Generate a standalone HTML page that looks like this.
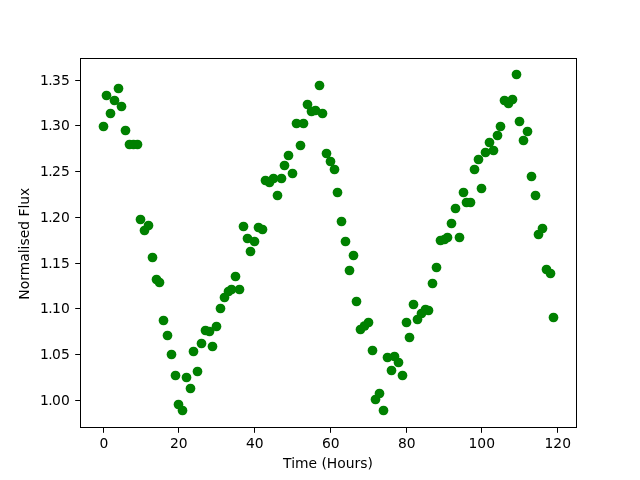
<!DOCTYPE html>
<html><head><meta charset="utf-8"><title>Normalised Flux vs Time</title>
<style>
html,body{margin:0;padding:0;background:#fff;}
svg{display:block;}
text{font-family:"DejaVu Sans","Liberation Sans",sans-serif;font-size:13.89px;fill:#000;}
</style></head><body>
<svg width="640" height="480" viewBox="0 0 640 480">
<rect x="0" y="0" width="640" height="480" fill="#fff"/>
<g fill="#008000"><circle cx="103.5" cy="126.5" r="4.86"/><circle cx="106.5" cy="95.5" r="4.86"/><circle cx="110.5" cy="113.5" r="4.86"/><circle cx="114.5" cy="100.5" r="4.86"/><circle cx="118.5" cy="88.5" r="4.86"/><circle cx="121.5" cy="106.5" r="4.86"/><circle cx="125.5" cy="130.5" r="4.86"/><circle cx="129.5" cy="144.5" r="4.86"/><circle cx="133.5" cy="144.5" r="4.86"/><circle cx="137.5" cy="144.5" r="4.86"/><circle cx="140.5" cy="219.5" r="4.86"/><circle cx="144.5" cy="230.5" r="4.86"/><circle cx="148.5" cy="225.5" r="4.86"/><circle cx="152.5" cy="257.5" r="4.86"/><circle cx="156.5" cy="279.5" r="4.86"/><circle cx="159.5" cy="282.5" r="4.86"/><circle cx="163.5" cy="320.5" r="4.86"/><circle cx="167.5" cy="335.5" r="4.86"/><circle cx="171.5" cy="354.5" r="4.86"/><circle cx="175.5" cy="375.5" r="4.86"/><circle cx="178.5" cy="404.5" r="4.86"/><circle cx="182.5" cy="410.5" r="4.86"/><circle cx="186.5" cy="377.5" r="4.86"/><circle cx="190.5" cy="388.5" r="4.86"/><circle cx="193.5" cy="351.5" r="4.86"/><circle cx="197.5" cy="371.5" r="4.86"/><circle cx="201.5" cy="343.5" r="4.86"/><circle cx="205.5" cy="330.5" r="4.86"/><circle cx="209.5" cy="331.5" r="4.86"/><circle cx="212.5" cy="346.5" r="4.86"/><circle cx="216.5" cy="326.5" r="4.86"/><circle cx="220.5" cy="308.5" r="4.86"/><circle cx="224.5" cy="297.5" r="4.86"/><circle cx="228.5" cy="291.5" r="4.86"/><circle cx="231.5" cy="289.5" r="4.86"/><circle cx="235.5" cy="276.5" r="4.86"/><circle cx="239.5" cy="289.5" r="4.86"/><circle cx="243.5" cy="226.5" r="4.86"/><circle cx="247.5" cy="238.5" r="4.86"/><circle cx="250.5" cy="251.5" r="4.86"/><circle cx="254.5" cy="241.5" r="4.86"/><circle cx="258.5" cy="227.5" r="4.86"/><circle cx="262.5" cy="229.5" r="4.86"/><circle cx="265.5" cy="180.5" r="4.86"/><circle cx="269.5" cy="182.5" r="4.86"/><circle cx="273.5" cy="178.5" r="4.86"/><circle cx="277.5" cy="195.5" r="4.86"/><circle cx="281.5" cy="178.5" r="4.86"/><circle cx="284.5" cy="165.5" r="4.86"/><circle cx="288.5" cy="155.5" r="4.86"/><circle cx="292.5" cy="173.5" r="4.86"/><circle cx="296.5" cy="123.5" r="4.86"/><circle cx="300.5" cy="145.5" r="4.86"/><circle cx="303.5" cy="123.5" r="4.86"/><circle cx="307.5" cy="104.5" r="4.86"/><circle cx="311.5" cy="111.5" r="4.86"/><circle cx="315.5" cy="110.5" r="4.86"/><circle cx="319.5" cy="85.5" r="4.86"/><circle cx="322.5" cy="113.5" r="4.86"/><circle cx="326.5" cy="153.5" r="4.86"/><circle cx="330.5" cy="161.5" r="4.86"/><circle cx="334.5" cy="169.5" r="4.86"/><circle cx="337.5" cy="192.5" r="4.86"/><circle cx="341.5" cy="221.5" r="4.86"/><circle cx="345.5" cy="241.5" r="4.86"/><circle cx="349.5" cy="270.5" r="4.86"/><circle cx="353.5" cy="255.5" r="4.86"/><circle cx="356.5" cy="301.5" r="4.86"/><circle cx="360.5" cy="329.5" r="4.86"/><circle cx="364.5" cy="326.0" r="4.86"/><circle cx="368.5" cy="322.5" r="4.86"/><circle cx="372.5" cy="350.5" r="4.86"/><circle cx="375.5" cy="399.5" r="4.86"/><circle cx="379.5" cy="393.5" r="4.86"/><circle cx="383.5" cy="410.5" r="4.86"/><circle cx="387.5" cy="357.5" r="4.86"/><circle cx="391.5" cy="370.5" r="4.86"/><circle cx="394.5" cy="356.5" r="4.86"/><circle cx="398.5" cy="362.5" r="4.86"/><circle cx="402.5" cy="375.5" r="4.86"/><circle cx="406.5" cy="322.5" r="4.86"/><circle cx="409.5" cy="337.5" r="4.86"/><circle cx="413.5" cy="304.5" r="4.86"/><circle cx="417.5" cy="319.5" r="4.86"/><circle cx="421.5" cy="313.5" r="4.86"/><circle cx="425.5" cy="309.5" r="4.86"/><circle cx="428.5" cy="310.5" r="4.86"/><circle cx="432.5" cy="283.5" r="4.86"/><circle cx="436.5" cy="267.5" r="4.86"/><circle cx="440.5" cy="240.5" r="4.86"/><circle cx="444.5" cy="239.5" r="4.86"/><circle cx="447.5" cy="237.5" r="4.86"/><circle cx="451.5" cy="223.5" r="4.86"/><circle cx="455.5" cy="208.5" r="4.86"/><circle cx="459.5" cy="237.5" r="4.86"/><circle cx="463.5" cy="192.5" r="4.86"/><circle cx="466.5" cy="202.5" r="4.86"/><circle cx="470.5" cy="202.5" r="4.86"/><circle cx="474.5" cy="169.5" r="4.86"/><circle cx="478.5" cy="159.5" r="4.86"/><circle cx="481.5" cy="188.5" r="4.86"/><circle cx="485.5" cy="152.5" r="4.86"/><circle cx="489.5" cy="142.5" r="4.86"/><circle cx="493.5" cy="150.5" r="4.86"/><circle cx="497.5" cy="135.5" r="4.86"/><circle cx="500.5" cy="126.5" r="4.86"/><circle cx="504.5" cy="100.5" r="4.86"/><circle cx="508.5" cy="103.5" r="4.86"/><circle cx="512.5" cy="99.5" r="4.86"/><circle cx="516.5" cy="74.5" r="4.86"/><circle cx="519.5" cy="121.5" r="4.86"/><circle cx="523.5" cy="140.5" r="4.86"/><circle cx="527.5" cy="131.5" r="4.86"/><circle cx="531.5" cy="176.5" r="4.86"/><circle cx="535.5" cy="195.5" r="4.86"/><circle cx="538.5" cy="234.5" r="4.86"/><circle cx="542.5" cy="228.5" r="4.86"/><circle cx="546.5" cy="269.5" r="4.86"/><circle cx="550.5" cy="273.5" r="4.86"/><circle cx="553.5" cy="317.5" r="4.86"/></g>
<g fill="#000">
<rect x="80" y="58" width="1" height="370"/>
<rect x="576" y="58" width="1" height="370"/>
<rect x="80" y="58" width="497" height="1"/>
<rect x="80" y="427" width="497" height="1"/>
<rect x="103.0" y="428" width="1" height="4.8"/><rect x="178.0" y="428" width="1" height="4.8"/><rect x="254.0" y="428" width="1" height="4.8"/><rect x="330.0" y="428" width="1" height="4.8"/><rect x="406.0" y="428" width="1" height="4.8"/><rect x="481.0" y="428" width="1" height="4.8"/><rect x="557.0" y="428" width="1" height="4.8"/><rect x="75.2" y="400" width="4.8" height="1"/><rect x="75.2" y="354" width="4.8" height="1"/><rect x="75.2" y="308" width="4.8" height="1"/><rect x="75.2" y="263" width="4.8" height="1"/><rect x="75.2" y="217" width="4.8" height="1"/><rect x="75.2" y="171" width="4.8" height="1"/><rect x="75.2" y="125" width="4.8" height="1"/><rect x="75.2" y="80" width="4.8" height="1"/>
</g>
<g><text x="103.8" y="448.2" text-anchor="middle">0</text><text x="178.8" y="448.2" text-anchor="middle">20</text><text x="254.8" y="448.2" text-anchor="middle">40</text><text x="330.8" y="448.2" text-anchor="middle">60</text><text x="406.8" y="448.2" text-anchor="middle">80</text><text x="481.8" y="448.2" text-anchor="middle">100</text><text x="557.8" y="448.2" text-anchor="middle">120</text><text x="40.1 48.3 52 60.9" y="404.8">1.00</text><text x="40.1 48.3 52 60.9" y="358.8">1.05</text><text x="40.1 48.3 52 60.9" y="312.8">1.10</text><text x="40.1 48.3 52 60.9" y="267.8">1.15</text><text x="40.1 48.3 52 60.9" y="221.8">1.20</text><text x="40.1 48.3 52 60.9" y="175.8">1.25</text><text x="40.1 48.3 52 60.9" y="129.8">1.30</text><text x="40.1 48.3 52 60.9" y="84.8">1.35</text>
<text x="328" y="468.1" text-anchor="middle">Time (Hours)</text>
<text transform="translate(29.4,243.7) rotate(-90)" text-anchor="middle">Normalised Flux</text>
</g>
</svg>
</body></html>
